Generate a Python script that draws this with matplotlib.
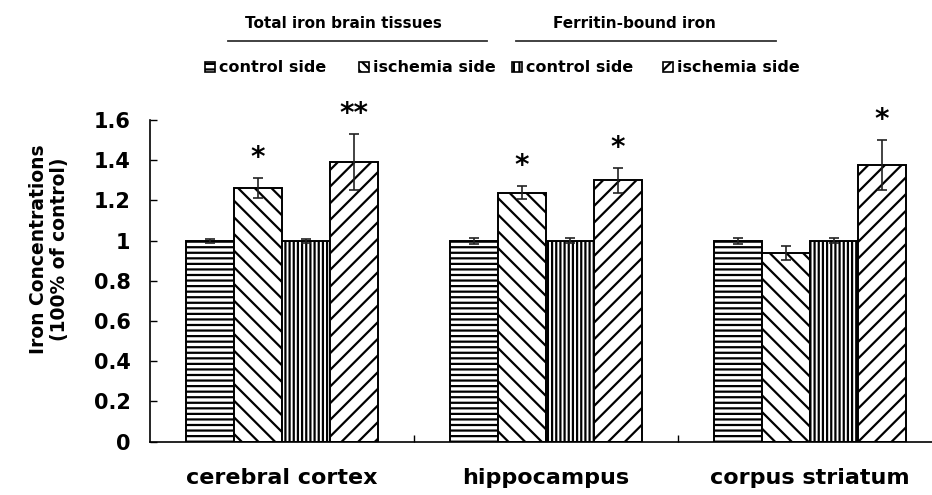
import numpy as np
import matplotlib
matplotlib.use('Agg')
import matplotlib.pyplot as plt
from matplotlib.patches import Rectangle

categories = ['cerebral cortex', 'hippocampus', 'corpus striatum']
series_names = ['control side', 'ischemia side', 'control side', 'ischemia side']
total_ctrl = [1.0, 1.0, 1.0]
total_ctrl_err = [0.01, 0.015, 0.015]
total_isch = [1.26, 1.238, 0.94]
total_isch_err = [0.05, 0.033, 0.035]
ferr_ctrl = [1.0, 1.0, 1.0]
ferr_ctrl_err = [0.01, 0.012, 0.012]
ferr_isch = [1.39, 1.30, 1.376]
ferr_isch_err = [0.14, 0.063, 0.125]
stars_total = ['*', '*', '']
stars_ferr = ['**', '*', '*']
yticks = [0, 0.2, 0.4, 0.6, 0.8, 1, 1.2, 1.4, 1.6]
ytick_labels = ['0', '0.2', '0.4', '0.6', '0.8', '1', '1.2', '1.4', '1.6']

plt.rcParams['font.family'] = ['DejaVu Sans']
plt.rcParams['font.weight'] = 'bold'
plt.rcParams['hatch.linewidth'] = 1.6

fig = plt.figure(figsize=(9.32, 4.95), dpi=100)
ax = fig.add_axes([150 / 932, 1 - 441.5 / 495, 792 / 932, 321.5 / 495])

x = np.arange(len(categories))
w = 0.182
hatches = ['---', '\\\\', '||||', '//']
vals = [total_ctrl, total_isch, ferr_ctrl, ferr_isch]
errs = [total_ctrl_err, total_isch_err, ferr_ctrl_err, ferr_isch_err]
stars = [None, stars_total, None, stars_ferr]

for i in range(4):
    pos = x + (i - 1.5) * w
    ax.bar(pos, vals[i], w, color='white', edgecolor='black', hatch=hatches[i],
           linewidth=1.4, yerr=errs[i], capsize=3.5,
           error_kw=dict(elinewidth=1.2, capthick=1.2, ecolor='#222222'))
    if stars[i] is not None:
        for p, v, e, s in zip(pos, vals[i], errs[i], stars[i]):
            if s:
                ax.text(p, v + e + 0.03, s, ha='center', va='bottom',
                        fontsize=20, fontweight='bold')

ax.set_xlim(-0.5, 2.5)
ax.set_ylim(0, 1.6)
ax.set_yticks(yticks)
ax.set_yticklabels(ytick_labels, fontsize=15, fontweight='bold')
ax.set_xticks([0.5, 1.5])
ax.set_xticklabels([])
ax.tick_params(axis='x', direction='in', length=5, width=1)
ax.tick_params(axis='y', direction='in', length=5, width=1, pad=14)
for c, name in zip(x, categories):
    ax.text(c, -0.21, name, ha='center', va='baseline', fontsize=16,
            fontweight='bold')
ax.spines['top'].set_visible(False)
ax.spines['right'].set_visible(False)
ax.spines['left'].set_linewidth(1.2)
ax.spines['bottom'].set_linewidth(1.2)

fig.text(49 / 932, 1 - 249 / 495, 'Iron Concentrations\n(100% of control)',
         rotation=90, ha='center', va='center', fontsize=13.5, fontweight='bold',
         linespacing=1.15)

# group headers
fig.text(343 / 932, 1 - 23 / 495, 'Total iron brain tissues', ha='center',
         va='center', fontsize=11, fontweight='bold')
fig.text(634 / 932, 1 - 23 / 495, 'Ferritin-bound iron', ha='center',
         va='center', fontsize=11, fontweight='bold')
fig.add_artist(plt.Line2D([228 / 932, 487 / 932], [1 - 41 / 495] * 2, color='#333333', lw=1.3))
fig.add_artist(plt.Line2D([516 / 932, 776 / 932], [1 - 41 / 495] * 2, color='#333333', lw=1.3))

# legend
box_x = [205, 359, 512, 663]
box_hatch = ['---', '\\\\\\', '|||', '///']
for bx, h, name in zip(box_x, box_hatch, series_names):
    r = Rectangle((bx / 932, 1 - 72 / 495), 10 / 932, 10 / 495, transform=fig.transFigure,
                  facecolor='white', edgecolor='black', hatch=h, lw=1.2)
    fig.add_artist(r)
    fig.text((bx + 14) / 932, 1 - 67 / 495, name, ha='left', va='center',
             fontsize=11.5, fontweight='bold')

fig.savefig('out.png', dpi=100)
